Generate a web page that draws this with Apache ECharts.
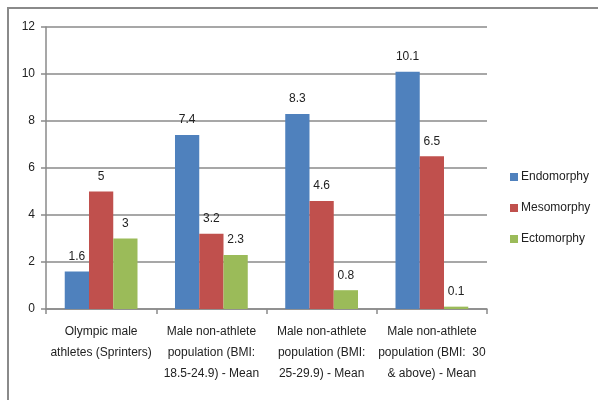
<!DOCTYPE html>
<html><head><meta charset="utf-8">
<script src="https://cdn.jsdelivr.net/npm/echarts@6/dist/echarts.min.js"></script>
<style>html,body{margin:0;padding:0;background:#fff}#c{width:598px;height:400px}</style>
</head><body><div id="c"></div>
<script>
const categories = [
  "Olympic male\nathletes (Sprinters)",
  "Male non-athlete\npopulation (BMI:\n18.5-24.9) - Mean",
  "Male non-athlete\npopulation (BMI:\n25-29.9) - Mean",
  "Male non-athlete\npopulation (BMI:  30\n& above) - Mean"
];
const endomorphy = [1.6, 7.4, 8.3, 10.1];
const mesomorphy = [5, 3.2, 4.6, 6.5];
const ectomorphy = [3, 2.3, 0.8, 0.1];
const seriesNames = ["Endomorphy", "Mesomorphy", "Ectomorphy"];
const colors = ["#4F81BD", "#C0504D", "#9BBB59"];

const FONT = "'Liberation Sans Narrow', 'Liberation Sans', Arial, sans-serif";
const chart = echarts.init(document.getElementById('c'), null, {renderer: 'canvas'});
const mk = (name, data, color) => ({
  name, type: 'bar', data, barGap: '0%', barCategoryGap: '34%',
  itemStyle: {color},
  label: {show: true, position: 'top', distance: 9, color: '#222', fontSize: 12, fontFamily: FONT},
  animation: false
});
chart.setOption({
  animation: false,
  textStyle: {fontFamily: FONT},
  graphic: [{type: 'rect', shape: {x: 8, y: 8, width: 700, height: 500},
    style: {fill: 'none', stroke: '#8a8a8a', lineWidth: 2}, silent: true}],
  grid: {left: 46, right: 111, top: 27, bottom: 91, containLabel: false},
  legend: {
    orient: 'vertical', left: 505, top: 166, itemGap: 19,
    itemWidth: 8, itemHeight: 8, icon: 'rect',
    textStyle: {fontSize: 12, color: '#222', fontFamily: FONT, padding: [0,0,0,-2]},
    data: seriesNames
  },
  xAxis: {
    type: 'category', data: categories,
    axisLine: {lineStyle: {color: '#8a8a8a', width: 1.5}},
    axisTick: {show: true, length: 5, alignWithLabel: false, lineStyle: {color: '#8a8a8a', width: 1.5}},
    axisLabel: {interval: 0, color: '#222', fontSize: 12, lineHeight: 21, margin: 12, fontFamily: FONT}
  },
  yAxis: {
    type: 'value', min: 0, max: 12, interval: 2,
    axisLine: {show: true, lineStyle: {color: '#8a8a8a', width: 1.5}},
    axisTick: {show: true, length: 5, lineStyle: {color: '#8a8a8a', width: 1.5}},
    splitLine: {lineStyle: {color: '#8a8a8a', width: 1.5}},
    axisLabel: {color: '#222', fontSize: 12, margin: 11, fontFamily: FONT}
  },
  series: [
    mk(seriesNames[0], endomorphy, colors[0]),
    mk(seriesNames[1], mesomorphy, colors[1]),
    mk(seriesNames[2], ectomorphy, colors[2])
  ]
});
</script></body></html>
